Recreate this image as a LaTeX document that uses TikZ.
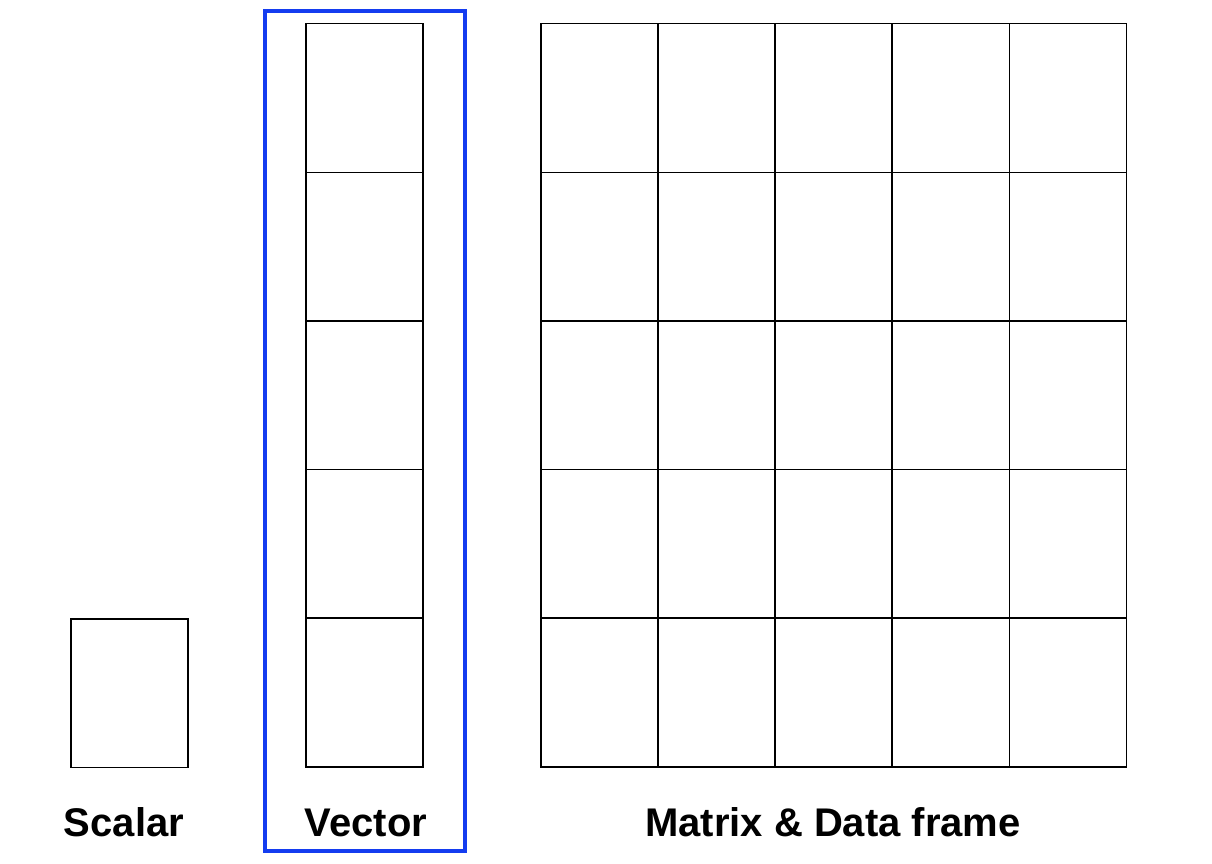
\documentclass[tikz,border=0pt]{standalone}
\usepackage{fontspec}
\setmainfont{Liberation Sans}
\usetikzlibrary{positioning}
\tikzset{
  cell/.style={draw, line width=1.5pt, minimum width=117pt, minimum height=148.6pt, inner sep=0pt, anchor=north west},
  caption/.style={font=\fontsize{40}{44}\selectfont\bfseries, anchor=base},
}
\definecolor{vecblue}{RGB}{20,60,240}
\begin{document}
\begin{tikzpicture}[x=1pt,y=-1pt]
  \useasboundingbox (0,0) rectangle (1212,864);
  % scalar
  \node[cell] (s) at (70,618) {};
  % vector
  \foreach \i in {0,...,4}
    \node[cell] (v\i) at (305,23+148.6*\i) {};
  % matrix
  \foreach \i in {0,...,4}
    \foreach \j in {0,...,4}
      \node[cell] (m\i\j) at (540+117.2*\j,23+148.6*\i) {};
  \node[draw=vecblue, line width=4pt, minimum width=200pt, minimum height=840pt, inner sep=0pt] (vbox) at (365,431) {};
  \node[caption] (ls) at (124,836) {Scalar};
  \node[caption] (lv) at (366,836) {Vector};
  \node[caption] (lm) at (833,836) {Matrix \& Data frame};
\end{tikzpicture}
\end{document}
